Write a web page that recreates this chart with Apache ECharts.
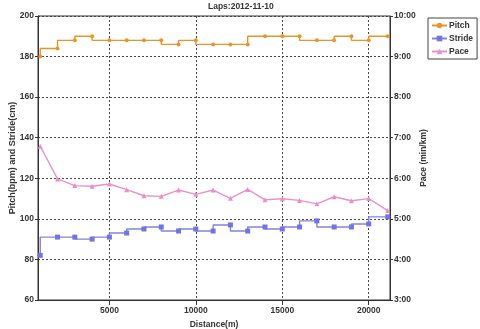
<!DOCTYPE html>
<html>
<head>
<meta charset="utf-8">
<script src="https://cdn.jsdelivr.net/npm/echarts@6/dist/echarts.min.js"></script>
<style>
  html, body { margin: 0; padding: 0; background: #fff; }
  #chart { width: 480px; height: 329px; }
</style>
</head>
<body>
<div id="chart"></div>
<script>
// lap end distances (m)
const distances = [1000, 2000, 3000, 4000, 5000, 6000, 7000, 8000, 9000, 10000,
  11000, 12000, 13000, 14000, 15000, 16000, 17000, 18000, 19000, 20000, 21097];
// cadence per lap (bpm)
const pitch = [180, 184, 188, 190, 188, 188, 188, 188, 186, 188,
  186, 186, 186, 190, 190, 190, 188, 188, 190, 188, 190];
// stride length per lap (cm)
const stride = [82, 91, 91, 90, 91, 93, 95, 96, 94, 95,
  94, 97, 94, 96, 95, 96, 99, 96, 96, 97.5, 101];
// pace per lap (min/km)
const pace = [6.79, 5.985, 5.82, 5.805, 5.86, 5.72, 5.57, 5.555, 5.71, 5.605,
  5.71, 5.505, 5.725, 5.47, 5.495, 5.455, 5.37, 5.545, 5.445, 5.5, 5.205];
const xTicks = [5000, 10000, 15000, 20000];

const pair = (vals) => distances.map((d, i) => [d, vals[i]]);

const labelStyle = { color: '#333', fontSize: 8.5, fontWeight: 'bold', fontFamily: 'Liberation Sans' };
const dash = { color: '#444', type: [2, 2], width: 1 };

const chart = echarts.init(document.getElementById('chart'));
chart.setOption({
  animation: false,
  textStyle: { fontFamily: 'Liberation Sans' },
  title: {
    text: 'Laps:2012-11-10',
    left: 208, top: 2, padding: 0,
    textStyle: { fontSize: 8.5, fontWeight: 'bold', color: '#333' }
  },
  legend: {
    orient: 'vertical',
    left: 428, top: 18,
    padding: [3, 4, 3, 3],
    itemGap: 4,
    itemWidth: 15, itemHeight: 7,
    borderColor: '#444', borderWidth: 1,
    textStyle: { fontSize: 8.5, fontWeight: 'bold', color: '#333', padding: [0, 0, 0, -3] },
    data: ['Pitch', 'Stride', 'Pace']
  },
  grid: {
    left: 38, right: 90, top: 16, bottom: 29,
    outerBoundsMode: 'none',
    show: true, borderColor: '#333', borderWidth: 1
  },
  xAxis: {
    type: 'value',
    min: 870, max: 21230,
    name: 'Distance(m)', nameLocation: 'middle', nameGap: 18,
    nameTextStyle: labelStyle,
    axisLine: { lineStyle: { color: '#333' } },
    axisTick: { customValues: xTicks, lineStyle: { color: '#333' } },
    axisLabel: Object.assign({ customValues: xTicks, margin: 6, formatter: (v) => String(v) }, labelStyle),
    splitLine: { show: true, customValues: xTicks, lineStyle: dash }
  },
  yAxis: [{
    type: 'value',
    min: 60, max: 200, interval: 20,
    name: 'Pitch(bpm) and Stride(cm)', nameLocation: 'middle', nameGap: 21,
    nameMoveOverlap: false,
    nameTextStyle: Object.assign({}, labelStyle, { fontSize: 9 }),
    axisLine: { show: true, lineStyle: { color: '#333' } },
    axisTick: { show: true, length: 3, lineStyle: { color: '#333' } },
    axisLabel: Object.assign({ margin: 4 }, labelStyle),
    splitLine: { show: true, lineStyle: dash }
  }, {
    type: 'value',
    min: 3, max: 10, interval: 1,
    name: 'Pace (min/km)', nameLocation: 'middle', nameGap: 29, nameRotate: 90,
    nameMoveOverlap: false,
    nameTextStyle: labelStyle,
    axisLine: { show: true, lineStyle: { color: '#333' } },
    axisTick: { show: true, length: 3, lineStyle: { color: '#333' } },
    axisLabel: Object.assign({ margin: 4, formatter: (v) => v + ':00' }, labelStyle),
    splitLine: { show: false }
  }],
  series: [{
    name: 'Pitch', type: 'line', step: 'start',
    data: pair(pitch),
    symbol: 'circle', symbolSize: 4,
    itemStyle: { color: '#E8952E' },
    lineStyle: { color: '#E8952E', width: 1.4 }
  }, {
    name: 'Stride', type: 'line', step: 'start',
    data: pair(stride),
    symbol: 'rect', symbolSize: 5,
    itemStyle: { color: '#7474E0' },
    lineStyle: { color: '#8484D4', width: 1.4 }
  }, {
    name: 'Pace', type: 'line', yAxisIndex: 1,
    data: pair(pace),
    symbol: 'triangle', symbolSize: 5,
    itemStyle: { color: '#E890C8' },
    lineStyle: { color: '#E892C6', width: 1.4 }
  }]
});
</script>
</body>
</html>
